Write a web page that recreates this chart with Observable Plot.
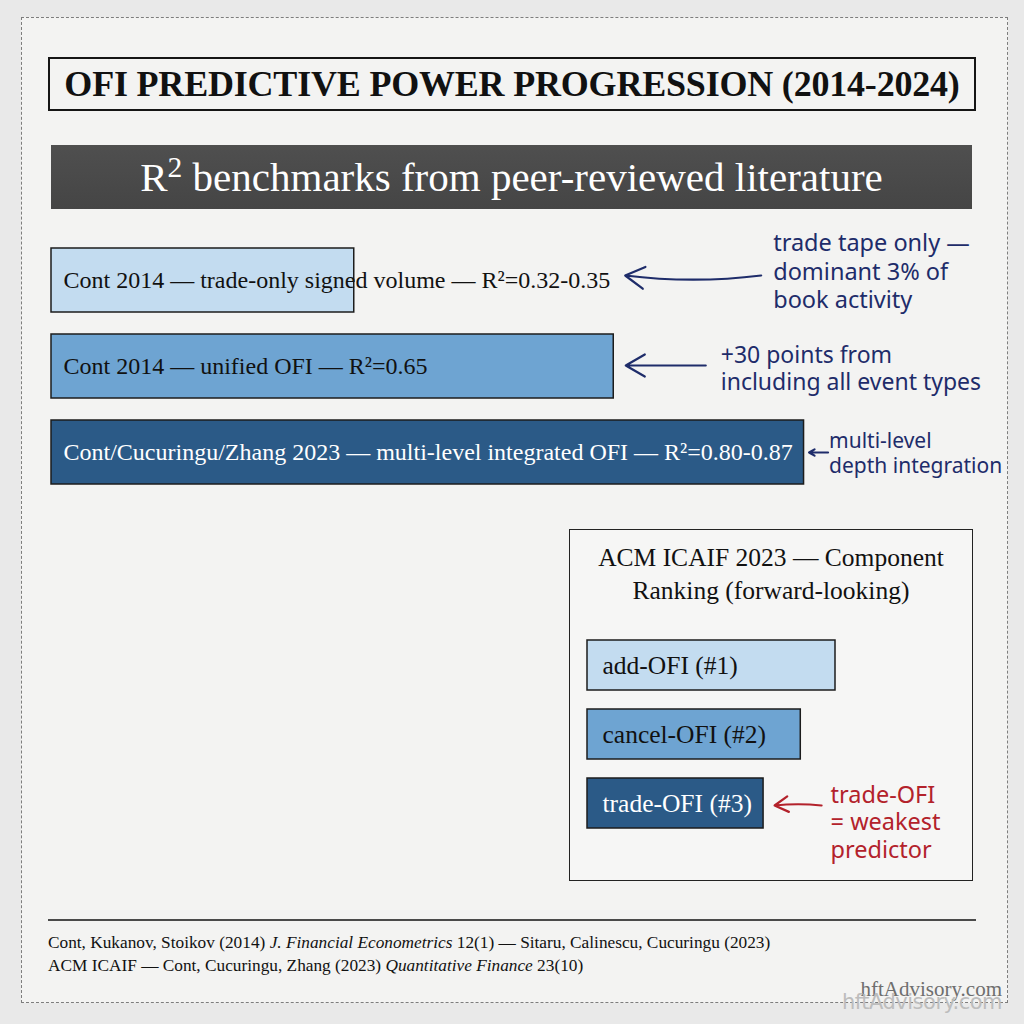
<!DOCTYPE html>
<html><head><meta charset="utf-8">
<script src="https://cdn.jsdelivr.net/npm/d3@7"></script>
<script src="https://cdn.jsdelivr.net/npm/@observablehq/plot@0.6"></script>
<style>
html,body{margin:0;padding:0;background:#e8e8e8;}
#page{position:relative;width:1024px;height:1024px;overflow:hidden;background:#e9e9e9;font-family:"Liberation Serif","DejaVu Serif",serif;color:#111;}
.frame{position:absolute;left:21px;top:17px;width:987px;height:986px;border:1px dashed #7d7d7d;background:#f3f3f2;box-sizing:border-box;}
.title{position:absolute;left:48px;top:57px;width:928px;height:54px;border:2px solid #151515;box-sizing:border-box;text-align:center;font-weight:bold;font-size:36px;line-height:51px;letter-spacing:-0.2px;white-space:nowrap;}
.banner{position:absolute;left:51px;top:145px;width:921px;height:64px;background:linear-gradient(#4f4f4f,#454545);color:#fff;text-align:center;font-size:41px;line-height:64px;white-space:nowrap;}
.banner sup{font-size:0.72em;vertical-align:0.48em;line-height:0;}
.inset{position:absolute;left:569px;top:529px;width:404px;height:352px;border:1.5px solid #222;box-sizing:border-box;background:#f6f6f5;}
.inset-title{position:absolute;left:0;top:11px;width:100%;text-align:center;font-size:25.5px;line-height:33px;}
.rule{position:absolute;left:48px;top:919px;width:928px;height:1.5px;background:#4a4a4a;}
.foot{position:absolute;left:48px;font-size:17.3px;line-height:20px;white-space:nowrap;}
.wm{position:absolute;right:22px;white-space:nowrap;}
svg{position:absolute;}
</style></head>
<body>
<div id="page">
  <div class="frame"></div>
  <div class="title" id="title"></div>
  <div class="banner" id="banner"></div>
  <div class="inset"><div class="inset-title" id="insetTitle"></div></div>
  <div class="rule"></div>
  <div class="foot" id="foot1" style="top:933px"></div>
  <div class="foot" id="foot2" style="top:956px"></div>
  <div class="wm" style="top:977px;font-size:21px;color:#6e6e6e;">hftAdvisory.com</div>
  <div class="wm" style="top:990px;font-family:'DejaVu Sans',sans-serif;font-size:21px;color:#bdbdbd;letter-spacing:-0.5px;">hftAdvisory.com</div>
</div>
<script>
// ---------- data ----------
const chartTitle = "OFI PREDICTIVE POWER PROGRESSION (2014-2024)";
const chartSubtitleHTML = "R<sup>2</sup> benchmarks from peer-reviewed literature";
const studies = [
  "Cont 2014 — trade-only signed volume — R²=0.32-0.35",
  "Cont 2014 — unified OFI — R²=0.65",
  "Cont/Cucuringu/Zhang 2023 — multi-level integrated OFI — R²=0.80-0.87"
];
const r2Upper = [0.35, 0.65, 0.87];
const studyNotes = [
  "trade tape only —\ndominant 3% of\nbook activity",
  "+30 points from\nincluding all event types",
  "multi-level\ndepth integration"
];
const insetTitleLines = ["ACM ICAIF 2023 — Component", "Ranking (forward-looking)"];
const components = ["add-OFI (#1)", "cancel-OFI (#2)", "trade-OFI (#3)"];
const componentScore = [1.0, 0.86, 0.71];
const componentNote = "trade-OFI\n= weakest\npredictor";
const citation1 = 'Cont, Kukanov, Stoikov (2014) <i>J. Financial Econometrics</i> 12(1) — Sitaru, Calinescu, Cucuringu (2023)';
const citation2 = 'ACM ICAIF — Cont, Cucuringu, Zhang (2023) <i>Quantitative Finance</i> 23(10)';

// ---------- styles / layout ----------
const barColors = ["#c3dcf0", "#6ea4d2", "#2b5a87"];
const labelColors = ["#111", "#111", "#ffffff"];
const navy = "#1e2c6a", red = "#b3222b";
const noteFont = "'Noto Sans', 'DejaVu Sans', sans-serif";
const noteLayout = [
  {tip: 15, tail: 151, text: 163, dy: -10, arrowDy: -5, bend: 7, size: 23.5},
  {tip: 12, tail: 92, text: 107, dy: 1, arrowDy: -1, bend: 0, size: 23},
  {tip: 5, tail: 24, text: 25, dy: 0, arrowDy: 0, bend: 0, size: 21}
];

document.getElementById("title").textContent = chartTitle;
document.getElementById("banner").innerHTML = chartSubtitleHTML;
document.getElementById("insetTitle").innerHTML = insetTitleLines.join("<br>");
document.getElementById("foot1").innerHTML = citation1;
document.getElementById("foot2").innerHTML = citation2;

const ctx = document.createElement("canvas").getContext("2d");
const labelSize = 24;
ctx.font = `${labelSize}px "Liberation Serif"`;

const rows = studies.map((s, i) => ({study: s, r2: r2Upper[i], note: studyNotes[i], color: barColors[i], labelColor: labelColors[i], i}));
const xMain = d3.scaleLinear([0, 1], [51, 916]);
const labelStart = 63;
const anchorPx = d => Math.max(xMain(d.r2), labelStart + ctx.measureText(d.study).width);

const mainMarks = [
  Plot.barX(rows, {x: "r2", y: "study", fill: "color", stroke: "#1c1c1c", strokeWidth: 1.5}),
  Plot.text(rows, {x: 0, y: "study", text: "study", dx: labelStart - 51, textAnchor: "start", fill: "labelColor",
    fontSize: labelSize, fontFamily: "Liberation Serif"})
];
rows.forEach((d, i) => {
  const L = noteLayout[i];
  const a = anchorPx(d);
  mainMarks.push(
    Plot.arrow([d], {x1: () => xMain.invert(a + L.tail), x2: () => xMain.invert(a + L.tip), y1: "study", y2: "study",
      dy: L.arrowDy, stroke: navy, strokeWidth: 2.2, headLength: 15, headAngle: 60, bend: L.bend}),
    Plot.text([d], {x: () => xMain.invert(a + L.text), y: "study", text: "note", textAnchor: "start", lineAnchor: "middle",
      lineHeight: 1.2, dy: L.dy, fill: navy, fontSize: L.size, fontFamily: noteFont})
  );
});

const mainPlot = Plot.plot({
  width: 1024, height: 1024,
  margin: 0,
  x: {domain: xMain.domain(), range: xMain.range(), axis: null},
  y: {domain: studies, range: [236, 495.5], paddingInner: 0.26, paddingOuter: 0.13, axis: null},
  color: {type: "identity"},
  style: {background: "transparent", overflow: "visible"},
  marks: mainMarks
});
mainPlot.style.left = "0px"; mainPlot.style.top = "0px";
document.getElementById("page").appendChild(mainPlot);

// ---------- inset ----------
const comps = components.map((c, i) => ({name: c, score: componentScore[i], color: barColors[i], labelColor: labelColors[i], i}));
const xIn = d3.scaleLinear([0, 1], [18, 266]);
const weakest = comps[comps.length - 1];
const insetPlot = Plot.plot({
  width: 404, height: 352,
  margin: 0,
  x: {domain: xIn.domain(), range: xIn.range(), axis: null},
  y: {domain: components, range: [101.5, 308.5], paddingInner: 0.275, paddingOuter: 0.1375, axis: null},
  color: {type: "identity"},
  style: {background: "transparent", overflow: "visible"},
  marks: [
    Plot.barX(comps, {x: "score", y: "name", fill: "color", stroke: "#1c1c1c", strokeWidth: 1.5}),
    Plot.text(comps, {x: 0, y: "name", text: "name", dx: 15, textAnchor: "start", fill: "labelColor", fontSize: 25.5, fontFamily: "Liberation Serif"}),
    Plot.arrow([weakest], {x1: d => xIn.invert(xIn(d.score) + 58), x2: d => xIn.invert(xIn(d.score) + 11), y1: "name", y2: "name",
      dy: 2, stroke: red, strokeWidth: 2.2, headLength: 15, headAngle: 60, bend: -6}),
    Plot.text([weakest], {x: d => xIn.invert(xIn(d.score) + 67), y: "name", text: () => componentNote, textAnchor: "start",
      lineAnchor: "middle", lineHeight: 1.17, dy: 18, fill: red, fontSize: 23.5, fontFamily: noteFont})
  ]
});
insetPlot.style.left = "569px"; insetPlot.style.top = "529px";
document.getElementById("page").appendChild(insetPlot);
</script>
</body></html>
